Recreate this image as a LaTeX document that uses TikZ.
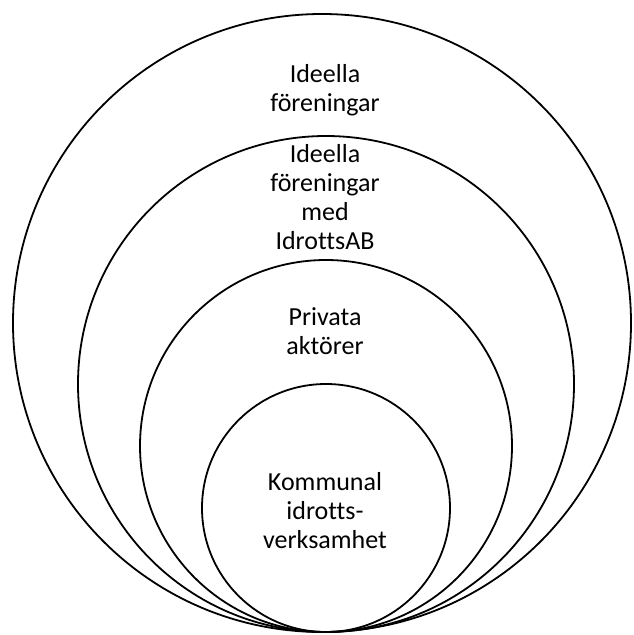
\documentclass[tikz,border=0pt]{standalone}
\usepackage{fontspec}
\setmainfont{Carlito}[Ligatures=NoCommon]
\usetikzlibrary{calc}

\tikzset{
    ring/.style={line width=1.8pt},
    label/.style={align=center, inner sep=0pt, font=\fontsize{26}{29}\selectfont}
}

\begin{document}
\begin{tikzpicture}[x=1pt, y=-1pt]
    \useasboundingbox (0, 0) rectangle (633, 635);
    
    \draw[ring] (322, 323) circle (309);
    \draw[ring] (326, 384) circle (248);
    \draw[ring] (326, 446) circle (186);
    \draw[ring] (326, 508) circle (124);
    
    \node[label] (ideella) at (325, 90) {Ideella\\föreningar};
    \node[label] (idrottsab) at (325, 197) {Ideella\\föreningar\\med\\IdrottsAB};
    \node[label] (privata) at (325, 331) {Privata\\aktörer};
    \node[label] (kommunal) at (325, 511) {Kommunal\\idrotts-\\verksamhet};
    
\end{tikzpicture}
\end{document}
